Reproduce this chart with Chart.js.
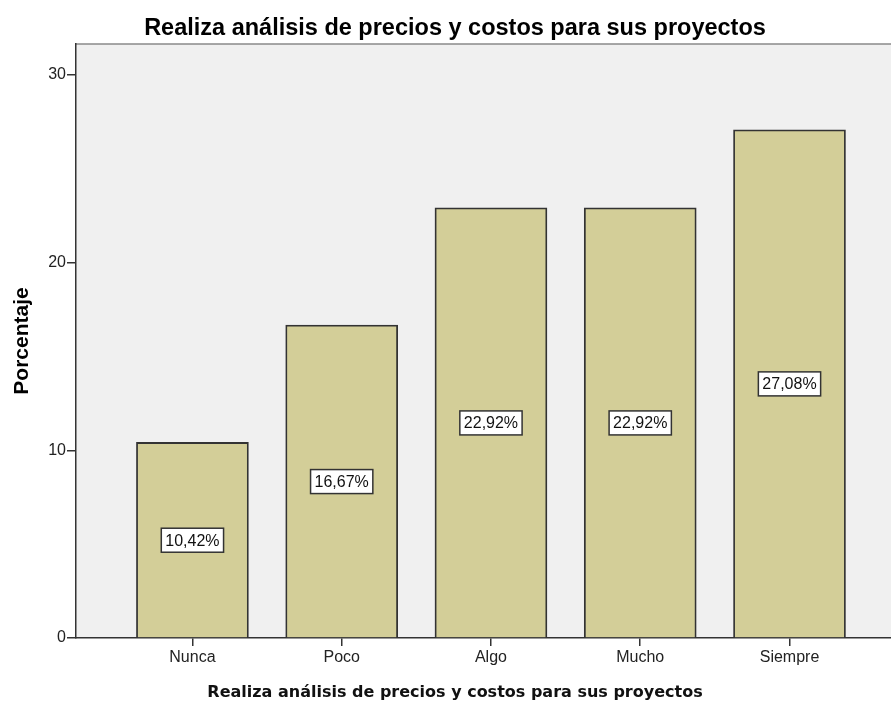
<!DOCTYPE html>
<html lang="es">
<head>
  <meta charset="UTF-8" />
  <title>Realiza análisis de precios y costos para sus proyectos</title>
  <script src="https://cdn.jsdelivr.net/npm/chart.js"></script>
  <style>
    body { margin: 0; background: #fff; }
    #wrap { width: 891px; height: 703px; position: relative; }
  </style>
</head>
<body>
  <div id="wrap"><canvas id="chart"></canvas></div>

  <script>
    const categories = ['Nunca', 'Poco', 'Algo', 'Mucho', 'Siempre'];
    const percentages = [10.42, 16.67, 22.92, 22.92, 27.08];
    const yTicks = [0, 10, 20, 30];

    const titleText = 'Realiza análisis de precios y costos para sus proyectos';

    // plot background plus the thin grey frame line on top
    const plotBackground = {
      id: 'plotBackground',
      beforeDraw(chart) {
        const { ctx, chartArea: a } = chart;
        ctx.save();
        ctx.fillStyle = '#f0f0f0';
        ctx.fillRect(a.left, a.top, a.right - a.left, a.bottom - a.top);
        ctx.strokeStyle = '#8a8a8a';
        ctx.lineWidth = 1.5;
        ctx.beginPath();
        ctx.moveTo(a.left, a.top);
        ctx.lineTo(a.right, a.top);
        ctx.stroke();
        ctx.restore();
      }
    };

    // boxed percentage label in the middle of every bar
    const barLabels = {
      id: 'barLabels',
      afterDatasetsDraw(chart) {
        const { ctx } = chart;
        const yScale = chart.scales.y;
        const meta = chart.getDatasetMeta(0);
        ctx.save();
        ctx.font = '16px "Liberation Sans", Arial, sans-serif';
        ctx.textAlign = 'center';
        ctx.textBaseline = 'middle';
        meta.data.forEach((bar, i) => {
          const v = percentages[i];
          const text = v.toFixed(2).replace('.', ',') + '%';
          const y = yScale.getPixelForValue(v / 2);
          const w = ctx.measureText(text).width + 8;
          const h = 24;
          ctx.fillStyle = '#fff';
          ctx.fillRect(bar.x - w / 2, y - h / 2, w, h);
          ctx.strokeStyle = '#333';
          ctx.lineWidth = 1.5;
          ctx.strokeRect(bar.x - w / 2, y - h / 2, w, h);
          ctx.fillStyle = '#111';
          ctx.fillText(text, bar.x, y + 1);
        });
        ctx.restore();
      }
    };

    // chart title and x axis title
    const titles = {
      id: 'titles',
      afterDraw(chart) {
        const { ctx } = chart;
        ctx.save();
        ctx.fillStyle = '#000';
        ctx.textAlign = 'center';
        ctx.textBaseline = 'alphabetic';
        ctx.font = 'bold 23.5px "Liberation Sans", Arial, sans-serif';
        ctx.fillText(titleText, 455, 35);
        ctx.fillStyle = '#111';
        ctx.font = 'bold 16px "DejaVu Sans", Verdana, sans-serif';
        ctx.fillText(titleText, 455, 697);
        ctx.restore();
      }
    };

    new Chart(document.getElementById('chart'), {
      type: 'bar',
      data: {
        datasets: [{
          data: percentages.map((v, i) => ({ x: i, y: v })),
          backgroundColor: '#d3ce98',
          borderColor: '#333',
          borderWidth: 1.8,
          barThickness: 112
        }]
      },
      options: {
        responsive: true,
        maintainAspectRatio: false,
        animation: false,
        layout: { padding: { top: 44, right: 0, left: 0, bottom: 0 } },
        plugins: {
          legend: { display: false },
          tooltip: { enabled: false }
        },
        scales: {
          x: {
            type: 'linear',
            offset: false,
            min: -0.78,
            max: 4.68,
            afterBuildTicks(scale) {
              scale.ticks = categories.map((c, i) => ({ value: i }));
            },
            afterFit(scale) { scale.height = 65; },
            ticks: {
              callback: v => categories[v],
              color: '#222',
              font: { family: '"Liberation Sans", Arial, sans-serif', size: 16 },
              padding: 2,
              maxRotation: 0,
              autoSkip: false
            },
            grid: {
              offset: false,
              drawOnChartArea: false,
              drawTicks: true,
              tickLength: 8,
              color: '#333',
              lineWidth: 1.5
            },
            border: { color: '#333', width: 1.5 }
          },
          y: {
            min: 0,
            max: 31.65,
            afterBuildTicks(scale) {
              scale.ticks = yTicks.map(v => ({ value: v }));
            },
            afterFit(scale) { scale.width = 76; },
            ticks: {
              color: '#222',
              font: { family: '"Liberation Sans", Arial, sans-serif', size: 16 },
              padding: 1
            },
            grid: {
              drawOnChartArea: false,
              drawTicks: true,
              tickLength: 9,
              color: '#333',
              lineWidth: 1.5
            },
            border: { color: '#333', width: 1.5 },
            title: {
              display: true,
              text: 'Porcentaje',
              color: '#000',
              font: { family: '"Liberation Sans", Arial, sans-serif', size: 21, weight: 'bold' },
              padding: { top: 10, bottom: 0 }
            }
          }
        }
      },
      plugins: [plotBackground, barLabels, titles]
    });
  </script>
</body>
</html>
